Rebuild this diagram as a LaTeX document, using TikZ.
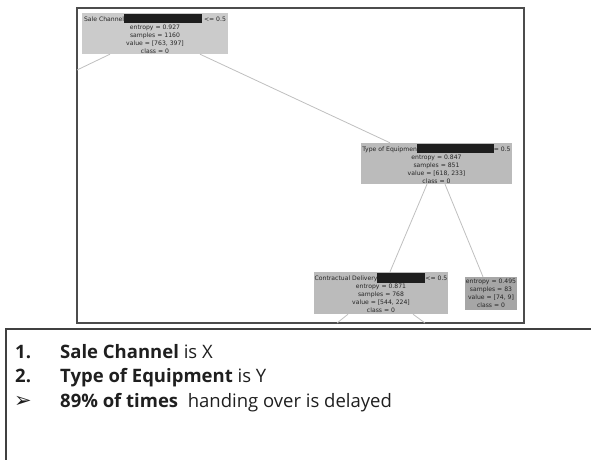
\documentclass[tikz,border=0pt]{standalone}
\usepackage{fontspec}
\setmainfont{Open Sans}
\newfontfamily\treefont{DejaVu Sans}
\usetikzlibrary{positioning}
\definecolor{rootgray}{HTML}{CBCBCB}
\definecolor{splitgray}{HTML}{BBBBBB}
\definecolor{leafgray}{HTML}{A6A6A6}
\definecolor{redactgray}{HTML}{1E1E1E}
\newcommand{\redact}[1]{\textcolor{redactgray}{\rule[-2.2pt]{#1}{9.6pt}}}
\tikzset{%
  tbox/.style={rectangle,inner sep=0,align=center,text=black!85,
    font=\treefont\fontsize{6.1}{8}\selectfont},
  tedge/.style={draw=black!25,line width=0.8pt},
  item/.style={anchor=base west,inner sep=0,text=black!88,
    font=\fontsize{18.5}{22}\selectfont}
}

\begin{document}
\begin{tikzpicture}[x=1pt,y=-1pt]
    \useasboundingbox (0,0) rectangle (591,459);
    \draw[line width=1.3pt,draw=black!70] (77,8) rectangle (524,323);
    \path
      (155,33.5) node[tbox,fill=rootgray,minimum width=146pt,minimum height=41pt] (root)
        {Sale Channel\redact{78pt} <= 0.5\\entropy = 0.927\\samples = 1160\\value = [763, 397]\\class = 0}
      (436.5,163.5) node[tbox,fill=splitgray,minimum width=151pt,minimum height=41pt] (equip)
        {Type of Equipmen\redact{77pt}= 0.5\\entropy = 0.847\\samples = 851\\value = [618, 233]\\class = 0}
      (381,293) node[tbox,fill=splitgray,minimum width=134pt,minimum height=42pt] (deliv)
        {Contractual Delivery\redact{48pt}<= 0.5\\entropy = 0.871\\samples = 768\\value = [544, 224]\\class = 0}
      (491,293.5) node[tbox,fill=leafgray,minimum width=52pt,minimum height=33pt] (leaf)
        {entropy = 0.495\\samples = 83\\value = [74, 9]\\class = 0};
    \coordinate (lcut) at (77,70);
    \coordinate (dcutl) at (337,323);
    \coordinate (dcutr) at (425,323);
    \draw[tedge] ([xshift=-45pt]root.south) -- (lcut);
    \draw[tedge] ([xshift=45pt]root.south) -- ([xshift=-46.5pt]equip.north);
    \draw[tedge] ([xshift=-9.5pt]equip.south) -- ([xshift=9pt]deliv.north);
    \draw[tedge] ([xshift=8.5pt]equip.south) -- ([xshift=-8pt]leaf.north);
    \draw[tedge] ([xshift=-33pt]deliv.south) -- (dcutl);
    \draw[tedge] ([xshift=32pt]deliv.south) -- (dcutr);
    % findings box
    \draw[line width=1.2pt,draw=black!75] (600,329) -- (6,329) -- (6,470);
    \path
      (15,358) node[item] (n1) {\textbf{1.}}
      (60,358) node[item] (t1) {\textbf{Sale Channel} is X}
      (15,382) node[item] (n2) {\textbf{2.}}
      (60,382) node[item] (t2) {\textbf{Type of Equipment} is Y}
      (14,407) node[item,font=\treefont\fontsize{21}{24}\selectfont] (n3) {➢}
      (60,407) node[item] (t3) {\textbf{89\% of times}\ \ handing over is delayed};
  \end{tikzpicture}
\end{document}
